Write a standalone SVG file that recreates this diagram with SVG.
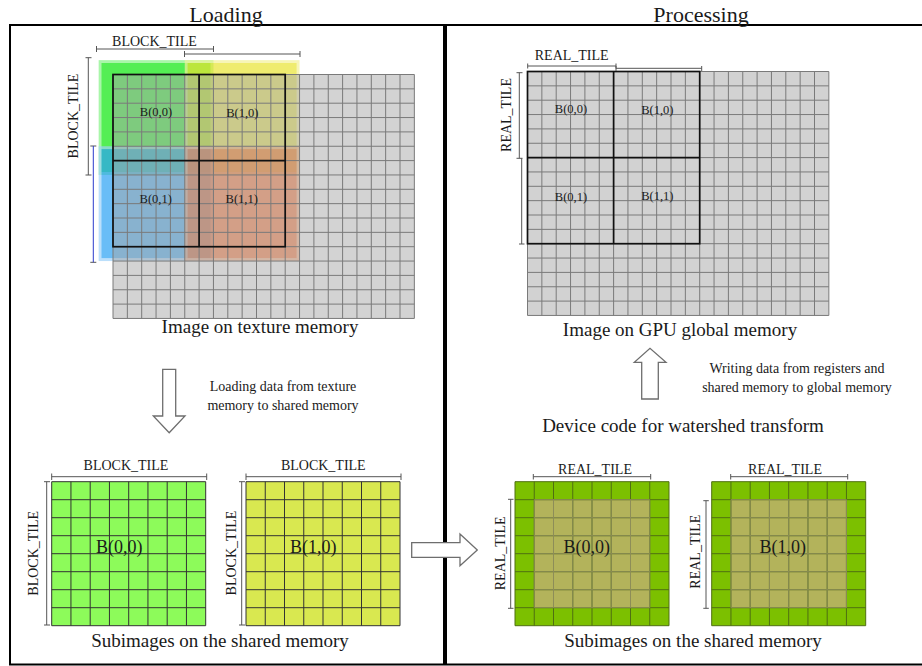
<svg xmlns="http://www.w3.org/2000/svg" xmlns:xlink="http://www.w3.org/1999/xlink" width="922" height="666" viewBox="0 0 922 666">
<style>
.t{font-family:"Liberation Serif","Times New Roman",serif;fill:#1a1a1a}
.title{font-size:22px}
.cap{font-size:19px}
.note{font-size:14px}
.dl{font-size:14px}
.bl{font-size:12.5px}
.bb{font-size:18px}
.dim{stroke:#555;stroke-width:1;fill:none}
.arrow{fill:#fff;stroke:#6e6e6e;stroke-width:1.3}
.gl{fill:none;stroke:#7a7a7a;stroke-width:1}
.sl{fill:none;stroke:#333;stroke-width:1}
.frame{fill:none;stroke:#000;stroke-width:2}
.tile{fill:none;stroke:#111;stroke-width:1.7}
</style>
<defs>
<path id="big" d="M0 0V243.95M14.35 0V243.95M28.7 0V243.95M43.05 0V243.95M57.4 0V243.95M71.75 0V243.95M86.1 0V243.95M100.45 0V243.95M114.8 0V243.95M129.15 0V243.95M143.5 0V243.95M157.85 0V243.95M172.2 0V243.95M186.55 0V243.95M200.9 0V243.95M215.25 0V243.95M229.6 0V243.95M243.95 0V243.95M258.3 0V243.95M272.65 0V243.95M287 0V243.95M301.35 0V243.95M0 0H301.35M0 14.35H301.35M0 28.7H301.35M0 43.05H301.35M0 57.4H301.35M0 71.75H301.35M0 86.1H301.35M0 100.45H301.35M0 114.8H301.35M0 129.15H301.35M0 143.5H301.35M0 157.85H301.35M0 172.2H301.35M0 186.55H301.35M0 200.9H301.35M0 215.25H301.35M0 229.6H301.35M0 243.95H301.35"/>
<path id="small" d="M0 0V144M19.25 0V144M38.5 0V144M57.75 0V144M77 0V144M96.25 0V144M115.5 0V144M134.75 0V144M154 0V144M0 0H154M0 18H154M0 36H154M0 54H154M0 72H154M0 90H154M0 108H154M0 126H154M0 144H154"/>
<path id="inner" d="M19.25 18H134.75V126H19.25ZM38.5 18V126M57.75 18V126M77 18V126M96.25 18V126M115.5 18V126M19.25 36H134.75M19.25 54H134.75M19.25 72H134.75M19.25 90H134.75M19.25 108H134.75"/>
</defs>

<g id="frame">
<rect class="frame" x="10" y="25" width="434" height="639.5"/>
<rect class="frame" x="446" y="25" width="480" height="639.5"/>
</g>

<g id="titles">
<text class="t title" x="226" y="22" text-anchor="middle">Loading</text>
<text class="t title" x="701" y="22" text-anchor="middle">Processing</text>
</g>

<g id="texture-image">
<g opacity="0.75">
<rect x="98.65" y="60.15" width="114.8" height="114.8" fill="#8df48d"/>
<rect x="101.5" y="63" width="109" height="109" fill="#1ce91c"/>
</g>
<g opacity="0.7">
<rect x="184.75" y="60.15" width="114.8" height="114.8" fill="#f4f29a"/>
<rect x="187.6" y="63" width="109" height="109" fill="#e9e433"/>
</g>
<g opacity="0.7">
<rect x="98.65" y="146.25" width="114.8" height="114.8" fill="#9fd2fa"/>
<rect x="101.5" y="149.1" width="109" height="109" fill="#2aa2f5"/>
</g>
<g opacity="0.7">
<rect x="184.75" y="146.25" width="114.8" height="114.8" fill="#ffb080"/>
<rect x="187.6" y="149.1" width="109" height="109" fill="#ff6c28"/>
</g>
<rect x="113" y="74.5" width="301.35" height="243.95" fill="#a8a8a8" fill-opacity="0.5"/>
<use xlink:href="#big" class="gl" transform="translate(113,74.5)"/>
<rect class="tile" x="113" y="74.5" width="172.2" height="172.2"/>
<path class="tile" d="M199.1 74.5V246.7M113 160.6H285.2"/>
<text class="t bl" x="156" y="116" text-anchor="middle">B(0,0)</text>
<text class="t bl" x="242.3" y="116.5" text-anchor="middle">B(1,0)</text>
<text class="t bl" x="155.7" y="203" text-anchor="middle">B(0,1)</text>
<text class="t bl" x="241.7" y="202.5" text-anchor="middle">B(1,1)</text>
<path class="dim" d="M96.5 49H213.5M96.5 46V52M213.5 46V52M184.5 54H300M184.5 51V57M300 51V57M88.3 57.7V175M85.5 57.7H91.5M85.5 175H91.5M90.3 146H96.3M90.3 262.3H96.3"/>
<path d="M93.3 146V262.3" stroke="#2b3bcc" stroke-width="1" fill="none"/>
<text class="t dl" x="154.5" y="46" text-anchor="middle">BLOCK_TILE</text>
<text class="t dl" transform="translate(78,116) rotate(-90)" text-anchor="middle">BLOCK_TILE</text>
<text class="t cap" x="260" y="333" text-anchor="middle">Image on texture memory</text>
</g>

<g id="global-image">
<rect x="527.5" y="71.5" width="301.35" height="243.95" fill="#d2d2d2"/>
<use xlink:href="#big" class="gl" transform="translate(527.5,71.5)"/>
<rect class="tile" x="527.5" y="71.5" width="172.2" height="172.2"/>
<path class="tile" d="M613.6 71.5V243.7M527.5 157.6H699.7"/>
<text class="t bl" x="571" y="113" text-anchor="middle">B(0,0)</text>
<text class="t bl" x="657.3" y="114" text-anchor="middle">B(1,0)</text>
<text class="t bl" x="571" y="200.7" text-anchor="middle">B(0,1)</text>
<text class="t bl" x="657.3" y="199.7" text-anchor="middle">B(1,1)</text>
<path class="dim" d="M527.7 66H616M527.7 63.5V68.5M616 63.5V68.5M616 68.3H701.7M616 66V71M701.7 66V71M519.3 72.7V158.3M516.5 72.7H522.5M516.5 158.3H522.5M521.7 158.3V244M519 244H524.5"/>
<text class="t dl" x="571.7" y="60" text-anchor="middle">REAL_TILE</text>
<text class="t dl" transform="translate(511,115) rotate(-90)" text-anchor="middle">REAL_TILE</text>
<text class="t cap" x="680" y="336" text-anchor="middle">Image on GPU global memory</text>
</g>

<g id="shared-left-0">
<rect x="51.7" y="481.7" width="154" height="144" fill="#8dfb5a"/>
<use xlink:href="#small" class="sl" transform="translate(51.7,481.7)"/>
<path class="dim" d="M51.7 476.7H206.7M51.7 473.5V480M206.7 473.5V480M46.7 481.7V625M44 481.7H50M44 625H50"/>
<text class="t dl" x="126" y="470" text-anchor="middle">BLOCK_TILE</text>
<text class="t dl" transform="translate(38,553.3) rotate(-90)" text-anchor="middle">BLOCK_TILE</text>
<text class="t bb" x="119.3" y="553" text-anchor="middle">B(0,0)</text>
</g>

<g id="shared-left-1">
<rect x="246" y="481.7" width="154" height="144" fill="#d9e850"/>
<use xlink:href="#small" class="sl" transform="translate(246,481.7)"/>
<path class="dim" d="M246 476.7H401M246 473.5V480M401 473.5V480M241.7 481.7V625M239 481.7H245M239 625H245"/>
<text class="t dl" x="323.3" y="470" text-anchor="middle">BLOCK_TILE</text>
<text class="t dl" transform="translate(235.7,553) rotate(-90)" text-anchor="middle">BLOCK_TILE</text>
<text class="t bb" x="313.3" y="553" text-anchor="middle">B(1,0)</text>
</g>
<text class="t cap" x="220" y="647" text-anchor="middle">Subimages on the shared memory</text>

<g id="shared-right-0">
<rect x="515" y="481.7" width="154" height="144" fill="#7cc000"/>
<rect x="534.25" y="499.7" width="115.5" height="108" fill="#b3b35b"/>
<use xlink:href="#small" fill="none" stroke="#4f6f12" stroke-width="1" transform="translate(515,481.7)"/>
<use xlink:href="#inner" fill="none" stroke="#8d8d58" stroke-width="1" transform="translate(515,481.7)"/>
<path class="dim" d="M533.3 476.7H650.7M533.3 474V479.5M650.7 474V479.5M510.7 499.3V608.3M508 499.3H513.5M508 608.3H513.5"/>
<text class="t dl" x="595" y="473.5" text-anchor="middle">REAL_TILE</text>
<text class="t dl" transform="translate(504.7,553.3) rotate(-90)" text-anchor="middle">REAL_TILE</text>
<text class="t bb" x="586.7" y="553" text-anchor="middle">B(0,0)</text>
</g>

<g id="shared-right-1">
<rect x="711.7" y="481.7" width="154" height="144" fill="#7cc000"/>
<rect x="730.95" y="499.7" width="115.5" height="108" fill="#b3b35b"/>
<use xlink:href="#small" fill="none" stroke="#4f6f12" stroke-width="1" transform="translate(711.7,481.7)"/>
<use xlink:href="#inner" fill="none" stroke="#8d8d58" stroke-width="1" transform="translate(711.7,481.7)"/>
<path class="dim" d="M730.7 476.7H847.7M730.7 474V479.5M847.7 474V479.5M706 500.7V608.3M703.3 500.7H708.8M703.3 608.3H708.8"/>
<text class="t dl" x="785" y="473.5" text-anchor="middle">REAL_TILE</text>
<text class="t dl" transform="translate(699.7,551.7) rotate(-90)" text-anchor="middle">REAL_TILE</text>
<text class="t bb" x="782.7" y="553" text-anchor="middle">B(1,0)</text>
</g>
<text class="t cap" x="693" y="647" text-anchor="middle">Subimages on the shared memory</text>

<g id="connectors">
<polygon class="arrow" points="162.7,369.3 175.7,369.3 175.7,416 185,416 169.2,432.7 153.3,416 162.7,416"/>
<polygon class="arrow" points="641.7,399 658.3,399 658.3,362.3 666,362.3 650,348.3 634.3,362.3 641.7,362.3"/>
<polygon class="arrow" points="411.7,542.7 460,542.7 460,534 477.3,550 460,565.7 460,557.3 411.7,557.3"/>
<text class="t note" x="283" y="391" text-anchor="middle">Loading data from texture</text>
<text class="t note" x="283" y="410" text-anchor="middle">memory to shared memory</text>
<text class="t note" x="797" y="373" text-anchor="middle">Writing data from registers and</text>
<text class="t note" x="797" y="392" text-anchor="middle">shared memory to global memory</text>
<text class="t cap" x="683" y="432" text-anchor="middle">Device code for watershed transform</text>
</g>
</svg>
